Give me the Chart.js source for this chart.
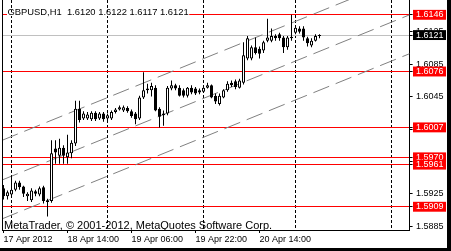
<!DOCTYPE html>
<html>
<head>
<meta charset="utf-8">
<script src="https://cdn.jsdelivr.net/npm/chart.js@4.4.0/dist/chart.umd.min.js"></script>
<style>
  html, body { margin: 0; padding: 0; background: #000; width: 451px; height: 251px; overflow: hidden; }
  #wrap { position: absolute; left: 0; top: 0; width: 447px; height: 248px; background: #fff; }
</style>
</head>
<body>
<div id="wrap"><canvas id="chartCanvas" width="447" height="248"></canvas></div>
<script>
// ------------------------------------------------------------------
// GBPUSD H1 - candles, levels and a channel (MetaTrader look)
// ------------------------------------------------------------------

// -------------------------------------------------------------
// DATA (one value per hourly bar)
// -------------------------------------------------------------
var symbol = "GBPUSD,H1"

var opens = [
  1.5932, 1.5922, 1.5924, 1.5930, 1.5939, 1.5934, 1.5922, 1.5917, 1.5928, 1.5924,
  1.5933, 1.5917, 1.5916, 1.5981, 1.5972, 1.5982, 1.5970, 1.5975, 1.5987, 1.6030,
  1.6018, 1.6018, 1.6017, 1.6025, 1.6018, 1.6024, 1.6018, 1.6018, 1.6026, 1.6029,
  1.6028, 1.6031, 1.6027, 1.6024, 1.6018, 1.6044, 1.6055, 1.6053, 1.6056, 1.6030,
  1.6022, 1.6024, 1.6055, 1.6059, 1.6056, 1.6053, 1.6046, 1.6056, 1.6055, 1.6053,
  1.6051, 1.6056, 1.6059, 1.6046, 1.6036, 1.6044, 1.6053, 1.6062, 1.6064, 1.6056,
  1.6062, 1.6092, 1.6092, 1.6106, 1.6104, 1.6102, 1.6114, 1.6114, 1.6120, 1.6122,
  1.6118, 1.6106, 1.6117, 1.6124, 1.6129, 1.6129, 1.6117, 1.6108, 1.6114, 1.6120
]
var highs = [
  1.5936, 1.5929, 1.5948, 1.5941, 1.5941, 1.5935, 1.5927, 1.5932, 1.5930, 1.5934,
  1.5935, 1.5919, 1.5991, 1.5991, 1.5993, 1.5985, 1.5998, 1.5991, 1.6040, 1.6040,
  1.6027, 1.6026, 1.6027, 1.6027, 1.6026, 1.6026, 1.6024, 1.6028, 1.6031, 1.6034,
  1.6034, 1.6033, 1.6029, 1.6026, 1.6046, 1.6075, 1.6061, 1.6062, 1.6059, 1.6032,
  1.6028, 1.6058, 1.6065, 1.6061, 1.6059, 1.6055, 1.6057, 1.6059, 1.6057, 1.6055,
  1.6057, 1.6062, 1.6060, 1.6049, 1.6049, 1.6054, 1.6064, 1.6065, 1.6066, 1.6067,
  1.6112, 1.6120, 1.6108, 1.6118, 1.6107, 1.6114, 1.6141, 1.6129, 1.6122, 1.6124,
  1.6120, 1.6120, 1.6146, 1.6133, 1.6132, 1.6132, 1.6119, 1.6117, 1.6122, 1.6122
]
var lows = [
  1.5918, 1.5918, 1.5922, 1.5928, 1.5930, 1.5921, 1.5916, 1.5915, 1.5922, 1.5922,
  1.5913, 1.5897, 1.5914, 1.5962, 1.5962, 1.5962, 1.5962, 1.5969, 1.5984, 1.6013,
  1.6016, 1.6016, 1.6015, 1.6015, 1.6016, 1.6014, 1.6016, 1.6016, 1.6024, 1.6028,
  1.6026, 1.6025, 1.6019, 1.6011, 1.6016, 1.6042, 1.6049, 1.6045, 1.6027, 1.6007,
  1.6009, 1.6022, 1.6053, 1.6053, 1.6045, 1.6044, 1.6044, 1.6048, 1.6047, 1.6048,
  1.6050, 1.6055, 1.6043, 1.6036, 1.6034, 1.6043, 1.6051, 1.6057, 1.6054, 1.6055,
  1.6060, 1.6090, 1.6090, 1.6097, 1.6092, 1.6099, 1.6112, 1.6112, 1.6114, 1.6114,
  1.6099, 1.6103, 1.6114, 1.6122, 1.6123, 1.6114, 1.6107, 1.6106, 1.6113, 1.6117
]
var closes = [
  1.5922, 1.5927, 1.5930, 1.5939, 1.5933, 1.5925, 1.5925, 1.5929, 1.5925, 1.5932,
  1.5916, 1.5915, 1.5975, 1.5976, 1.5982, 1.5972, 1.5976, 1.5988, 1.6030, 1.6016,
  1.6024, 1.6023, 1.6025, 1.6017, 1.6024, 1.6017, 1.6022, 1.6026, 1.6029, 1.6032,
  1.6032, 1.6027, 1.6021, 1.6017, 1.6044, 1.6053, 1.6053, 1.6058, 1.6028, 1.6020,
  1.6024, 1.6056, 1.6059, 1.6055, 1.6046, 1.6046, 1.6056, 1.6050, 1.6049, 1.6050,
  1.6056, 1.6059, 1.6044, 1.6039, 1.6046, 1.6053, 1.6061, 1.6059, 1.6057, 1.6065,
  1.6096, 1.6117, 1.6106, 1.6099, 1.6098, 1.6112, 1.6118, 1.6120, 1.6117, 1.6117,
  1.6106, 1.6118, 1.6119, 1.6130, 1.6125, 1.6118, 1.6111, 1.6114, 1.6120, 1.6121
]

// time axis: bar index -> label
var timeTickBars   = [0, 16, 32, 48, 64]
var timeTickLabels = ["17 Apr 2012", "18 Apr 14:00", "19 Apr 06:00", "19 Apr 22:00", "20 Apr 14:00"]

// period separators (bar index of each 00:00 bar)
var daySeparatorBars = [2, 26, 50, 73, 97]

// price axis (the first three are covered by the level boxes)
var hiddenPriceTicks = [1.6125, 1.6005, 1.5965]
var priceTicks       = [1.6085, 1.6045, 1.5925, 1.5885]

// red horizontal lines + current bid (grey line, black box)
var levelPrices = [1.6146, 1.6076, 1.6007, 1.5970, 1.5961, 1.5909]
var bidPrice = 1.6121

// equidistant channel: price of each line at left / right edge of the window
var channelLeft  = [1.5991, 1.5942, 1.5894]
var channelRight = [1.6195, 1.6146, 1.6098]

var copyright = "MetaTrader, \u00A9 2001-2012, MetaQuotes Software Corp."

// -------------------------------------------------------------
// SETTINGS (window of the chart, 4 px per bar)
// -------------------------------------------------------------
var xMin = -0.375, xMax = 101.525
var yMin = 1.58803, yMax = 1.61643
var fontFamily = '"Liberation Sans", Arial, sans-serif'

var last = closes.length - 1
var title = symbol + "  " + [opens[last], highs[last], lows[last], closes[last]].map(v => v.toFixed(4)).join(" ")

function isLevel(v) {
    return levelPrices.some(p => Math.abs(p - v) < 1e-7)
}
function isBid(v) {
    return Math.abs(v - bidPrice) < 1e-7
}

// -------------------------------------------------------------
// DATASETS
// -------------------------------------------------------------
var datasets = []

// bodies first (drawn on top), then wicks
datasets.push({
    type: "bar",
    data: opens.map((o, i) => ({ x: i, y: [o, closes[i]] })),
    backgroundColor: c => closes[c.dataIndex] >= opens[c.dataIndex] ? "#fff" : "#000",
    borderColor: "#000",
    borderWidth: 1,
    borderSkipped: false,
    inflateAmount: 0,
    barThickness: 3,
    grouped: false,
    order: 0
})
datasets.push({
    type: "bar",
    data: highs.map((h, i) => ({ x: i, y: [lows[i], h] })),
    backgroundColor: "#000",
    borderWidth: 0,
    inflateAmount: 0,
    barThickness: 1,
    grouped: false,
    order: 1
})

// channel lines
channelLeft.map((p, k) => {
    datasets.push({
        type: "line",
        data: [{ x: xMin, y: p }, { x: xMax, y: channelRight[k] }],
        borderColor: "#808080",
        borderWidth: 1,
        borderDash: [17, 7],
        pointRadius: 0,
        order: 2
    })
})

// -------------------------------------------------------------
// EXTRA DRAWING: frame, title, copyright
// -------------------------------------------------------------
var decor = {
    id: "decor",
    afterDraw(chart) {
        var ctx = chart.ctx
        var a = chart.chartArea
        ctx.save()
        ctx.fillStyle = "#000"
        ctx.fillRect(Math.floor(a.left), a.top, 1, a.bottom - a.top)

        ctx.font = "9.4px " + fontFamily
        ctx.textBaseline = "alphabetic"
        var w = ctx.measureText(title).width
        ctx.fillStyle = "#fff"
        ctx.fillRect(7, 12, w + 1, 4)
        ctx.fillStyle = "#000"
        ctx.fillText(title, 7.5, 15)

        ctx.font = "11px " + fontFamily
        ctx.fillText(copyright, 4, 229)
        ctx.restore()
    }
}

// -------------------------------------------------------------
// CHART
// -------------------------------------------------------------
var myChart = new Chart(document.getElementById("chartCanvas"), {
    type: "bar",
    data: { datasets: datasets },
    plugins: [decor],
    options: {
        responsive: false,
        animation: false,
        events: [],
        layout: { padding: { left: 2, top: 0, right: 0, bottom: 0 } },
        plugins: { legend: { display: false }, tooltip: { enabled: false } },
        scales: {
            x: {
                type: "linear", position: "bottom", min: xMin, max: xMax,
                offset: false,
                afterBuildTicks: s => { s.ticks = timeTickBars.map(v => ({ value: v })) },
                afterFit: s => { s.height = 18; s.paddingLeft = 0; s.paddingRight = 0 },
                grid: { offset: false, drawOnChartArea: false, drawTicks: true, tickLength: 3, tickColor: "#000" },
                border: { display: true, color: "#000" },
                ticks: {
                    autoSkip: false, maxRotation: 0, align: "start", padding: 2,
                    color: "#000", font: { family: fontFamily, size: 9, lineHeight: 1.1 },
                    callback: v => timeTickLabels[timeTickBars.indexOf(v)]
                }
            },
            x2: {
                type: "linear", position: "bottom", min: xMin, max: xMax,
                offset: false,
                afterBuildTicks: s => { s.ticks = daySeparatorBars.map(v => ({ value: v })) },
                afterFit: s => { s.height = 0; s.paddingLeft = 0; s.paddingRight = 0 },
                grid: { offset: false, drawOnChartArea: true, drawTicks: false, color: "#000", lineWidth: 1 },
                border: { display: false, dash: [3, 2] },
                ticks: { display: false }
            },
            y: {
                type: "linear", position: "right", min: yMin, max: yMax,
                beginAtZero: false,
                afterBuildTicks: s => {
                    s.ticks = hiddenPriceTicks.concat(priceTicks, [bidPrice], levelPrices).map(v => ({ value: v }))
                },
                afterFit: s => { s.width = 37.4; s.paddingTop = 0; s.paddingBottom = 0 },
                grid: {
                    drawTicks: true, tickLength: 3, tickColor: "#000", lineWidth: 1,
                    color: c => !c.tick ? "rgba(0,0,0,0)" : isBid(c.tick.value) ? "#c0c0c0" : isLevel(c.tick.value) ? "#ff0000" : "rgba(0,0,0,0)"
                },
                border: { display: true, color: "#000" },
                ticks: {
                    autoSkip: false, padding: 3.4,
                    font: { family: fontFamily, size: 9, lineHeight: 1.1 },
                    color: c => (c.tick && (isLevel(c.tick.value) || isBid(c.tick.value))) ? "#fff" : "#000",
                    showLabelBackdrop: c => !!(c.tick && (isLevel(c.tick.value) || isBid(c.tick.value))),
                    backdropColor: c => (c.tick && isBid(c.tick.value)) ? "#000" : "#ff0000",
                    backdropPadding: { left: 3, right: 2.5, top: 0, bottom: 0 },
                    callback: v => v.toFixed(4)
                }
            }
        }
    }
})
</script>
</body>
</html>
